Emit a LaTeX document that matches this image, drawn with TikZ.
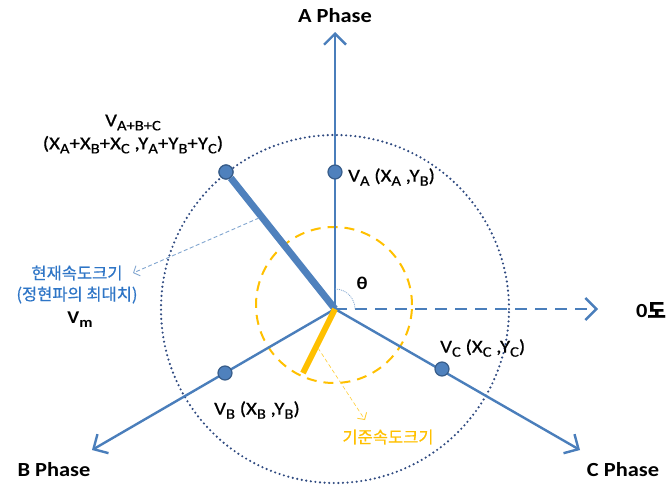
\documentclass[tikz,border=0pt]{standalone}
\usepackage{fontspec}
\setmainfont{Carlito}[FakeStretch=1.12]
\newfontfamily\lblfont{Carlito}[FakeStretch=1.14,FakeBold=0.6]
\newfontfamily\kr{Noto Sans CJK KR}[FakeBold=0.6]
\usetikzlibrary{arrows.meta}
\definecolor{axisblue}{HTML}{4A7EBB}
\definecolor{dotfill}{HTML}{4F81BD}
\definecolor{dotedge}{HTML}{385D8A}
\definecolor{navy}{HTML}{2F4A80}
\definecolor{gold}{HTML}{FFC000}
\definecolor{txtblue}{HTML}{2E75C6}
\newcommand\sbs[1]{\raisebox{-0.22em}{\fontsize{14.5}{14.5}\selectfont #1}}
\begin{document}
\begin{tikzpicture}[x=1pt,y=-1pt,
  axis/.style={draw=axisblue,line width=2.4pt,-{Straight Barb[length=11pt,width=22pt,line width=2.4pt]}},
  dot/.style={circle,fill=dotfill,draw=dotedge,line width=1.2pt,minimum size=14pt,inner sep=0pt},
  phase/.style={font=\fontsize{20}{24}\selectfont\bfseries},
  lbl/.style={font=\fontsize{18.3}{22}\selectfont\lblfont,inner sep=0pt},
  krlbl/.style={font=\fontsize{16.5}{20}\selectfont\kr,inner sep=0pt},
  pointer/.style={line width=0.9pt,dash pattern=on 4pt off 2.5pt,-{Straight Barb[length=5pt,width=11pt,line width=0.9pt]}}]
\useasboundingbox (0,0) rectangle (669,485);
\coordinate (O) at (335,309);
\coordinate (Atip) at (335,32);
\coordinate (Btip) at (92,450);
\coordinate (Ctip) at (580,450);
\coordinate (Ztip) at (598,309);
\coordinate (Y) at (303,373);
\coordinate (YC) at (334,305);
% circles
\draw[navy,line width=2.4pt,dash pattern=on 0pt off 4.6pt,line cap=round] (O) circle[radius=174pt];
\draw[gold,line width=2pt,dash pattern=on 10pt off 7pt] (YC) circle[radius=78pt];
% axes
\draw[axis] (O) -- (Atip);
\draw[axis] (O) -- (Btip);
\draw[axis] (O) -- (Ctip);
\draw[axis,dash pattern=on 12pt off 8pt] (O) -- (Ztip);
% theta arc
\draw[axisblue!70,line width=0.8pt,dash pattern=on 1pt off 1pt] (O) ++(0,-20) arc[start angle=90,end angle=0,radius=20pt];
% dots
\node[dot] (VA) at (335,172) {};
\node[dot] (VB) at (225,373) {};
\node[dot] (VC) at (442,369) {};
\node[dot] (VS) at (226,172) {};
% thick vectors
\draw[dotfill,line width=7pt] (O) -- (VS);
\node[dot] at (VS) {};
\draw[gold,line width=6pt] (O) -- (Y);
% pointer arrows
\coordinate (P1) at (259,218);
\coordinate (P1e) at (133,273);
\draw[pointer,axisblue!70] (P1) -- (P1e);
\coordinate (P2) at (318,348);
\coordinate (P2e) at (365,420);
\draw[pointer,gold!80,line width=0.6pt] (P2) -- (P2e);
% texts
\node[phase] (tA) at (335,16) {A Phase};
\node[phase] (tB) at (54,470) {B Phase};
\node[phase] (tC) at (623,470) {C Phase};
\node[font=\fontsize{20}{24}\selectfont\bfseries] (t0) at (651,310) {0{\kr 도}};
\node[font=\fontsize{18}{21}\selectfont\bfseries] (th) at (362,283) {θ};
\node[lbl,anchor=west] (lA) at (348,177) {V\sbs{A} (X\sbs{A} ,Y\sbs{B})};
\node[lbl,anchor=west] (lC) at (440,348) {V\sbs{C} (X\sbs{C} ,Y\sbs{C})};
\node[lbl,anchor=west] (lB) at (214,410) {V\sbs{B} (X\sbs{B} ,Y\sbs{B})};
\node[lbl,align=center] (lS) at (133,134) {V\sbs{A+B+C}\\[1pt](X\sbs{A}+X\sbs{B}+X\sbs{C} ,Y\sbs{A}+Y\sbs{B}+Y\sbs{C})};
\node[krlbl,txtblue] (k1) at (77,273) {현재속도크기};
\node[krlbl,txtblue] (k2) at (77,295) {(정현파의 최대치)};
\node[font=\fontsize{18}{21}\selectfont\bfseries] (vm) at (80,320) {V\sbs{m}};
\node[krlbl,gold] (k3) at (388,437) {기준속도크기};
\end{tikzpicture}
\end{document}
